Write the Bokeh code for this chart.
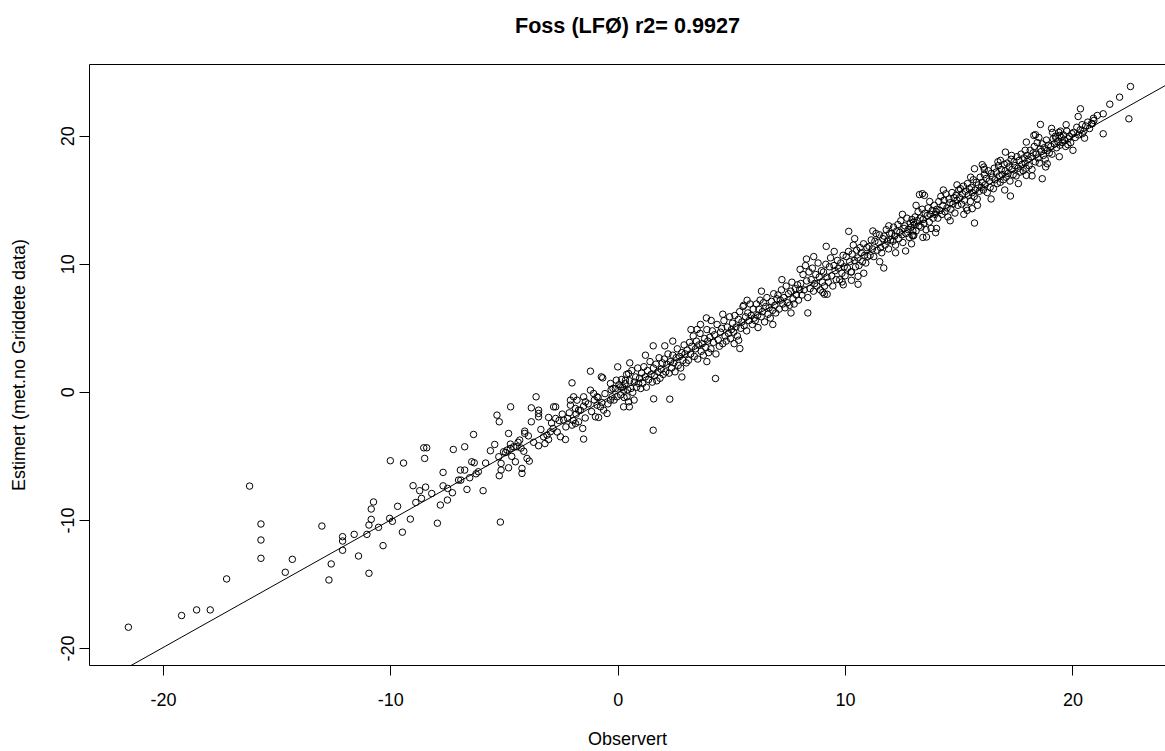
from bokeh.plotting import figure
from bokeh.models import Range1d, FixedTicker, LinearAxis, Slope
from bokeh.embed import file_html
from bokeh.resources import INLINE

TITLE = "Foss (LFØ) r2= 0.9927"
X_LABEL = "Observert"
Y_LABEL = "Estimert (met.no Griddete data)"
tick_values = [-20, -10, 0, 10, 20]
tick_labels = ["-20", "-10", "0", "10", "20"]
fit_intercept = 0.0
fit_slope = 0.9956

tail_points = [
    (-21.54, -18.34), (-19.20, -17.43), (-18.54, -16.99), (-17.94, -16.99), (-17.22, -14.57),
    (-16.21, -7.32), (-15.71, -10.28), (-15.71, -11.53), (-15.71, -12.96), (-14.33, -13.04),
    (-14.64, -14.05), (-13.03, -10.44), (-12.12, -11.27), (-12.12, -11.61), (-12.12, -12.33),
    (-12.62, -13.40), (-12.72, -14.65), (-11.61, -11.09), (-11.42, -12.78), (-11.05, -11.09),
    (-10.96, -10.36), (-10.86, -9.92), (-10.86, -9.11), (-10.76, -8.56), (-10.54, -10.54),
    (-10.34, -11.97), (-10.96, -14.13), (-10.05, -9.84), (-10.02, -5.34),
]

mid_points = [
    (-9.93, -10.07), (-9.49, -10.92), (-9.14, -9.90), (-8.65, -8.28), (-8.47, -7.40),
    (-7.95, -10.22), (-7.82, -8.80), (-7.51, -8.41), (-9.70, -8.90), (-8.90, -8.60),
    (-8.20, -7.90), (-7.70, -7.30), (-5.18, -10.13),
    (-9.44, -5.52), (-8.55, -4.33), (-8.42, -4.33), (-8.51, -5.16), (-9.02, -7.29), (-8.73, -7.68),
    (-7.70, -6.25), (-7.25, -4.46), (-6.75, -4.25), (-6.36, -3.29), (-6.94, -6.07), (-6.75, -6.07),
    (-6.44, -5.42), (-6.33, -5.50), (-7.02, -6.85), (-6.92, -6.85), (-7.50, -7.50), (-7.29, -7.84),
    (-6.65, -7.58), (-5.94, -7.68), (-6.53, -6.67), (-6.25, -6.36), (-6.15, -6.20), (-5.83, -5.52),
    (-5.43, -4.07), (-5.62, -4.56), (-5.33, -1.78), (-5.23, -2.30), (-4.73, -1.13), (-4.82, -3.21),
    (-5.25, -5.03), (-5.15, -5.55), (-5.15, -6.07), (-5.23, -6.51), (-5.04, -4.64), (-4.89, -4.51),
    (-4.74, -4.38), (-4.60, -4.25), (-4.74, -4.04), (-4.52, -5.42), (-4.82, -5.89), (-4.23, -5.94),
    (-4.23, -6.33), (-4.33, -3.73), (-4.11, -3.03), (-4.11, -3.21), (-4.01, -5.16), (-3.91, -5.37),
    (-3.82, -2.30), (-3.61, -0.35), (-3.82, -1.21), (-3.50, -1.39), (-3.50, -1.65), (-3.50, -1.91),
    (-3.50, -4.17), (-4.27, -4.35), (-4.45, -4.25), (-3.28, -3.47), (-3.13, -3.34), (-2.98, -3.08),
    (-2.86, -2.82), (-3.06, -1.96), (-2.84, -1.13), (-2.75, -1.13), (-2.75, -2.04), (-3.06, -3.68),
    (-2.54, -3.47), (-2.32, -3.68), (-2.40, -2.17), (-2.22, -2.04), (-2.03, 0.74), (-2.10, -0.61),
    (-2.10, -1.00), (-1.96, -0.35), (-1.81, -0.61), (-1.74, -1.39), (-1.88, -1.26), (-1.52, -0.35),
    (-1.44, -0.74), (-1.52, -1.08), (-2.03, -2.56), (-1.88, -2.43), (-1.74, -2.30), (-1.56, -2.82),
    (-1.52, -3.65), (-1.22, 1.65), (-1.22, 0.17), (-1.08, -0.09), (-0.93, -0.35), (-0.74, 1.21),
    (-0.68, 1.13), (-0.93, -1.00), (-0.78, -1.13), (-0.64, -1.39), (-0.49, -1.65), (-1.00, -1.91),
    (-0.86, -1.96), (-0.34, 0.69), (-0.23, 0.30), (-0.08, 0.95), (-0.02, 1.99), (0.10, 0.43),
    (0.24, 0.17), (0.39, -0.35), (0.46, -0.74), (0.32, 0.95), (0.46, 1.47), (0.51, 2.30),
    (-0.05, -0.35), (-0.27, -0.35), (-0.34, -0.61), (0.24, -1.13),
    (-4.95, -4.7), (-4.68, -5.0), (-4.40, -3.9), (-4.15, -4.6), (-3.95, -3.4), (-3.72, -3.9),
    (-3.40, -2.9), (-3.22, -4.0), (-2.93, -2.4), (-2.68, -3.1), (-2.60, -2.2), (-2.46, -1.7),
    (-2.30, -2.7), (-2.15, -1.6), (-1.98, -2.2), (-1.85, -1.7), (-1.66, -1.4), (-1.45, -2.0),
    (-1.32, -0.9), (-1.17, -1.5), (-1.05, -0.6), (-0.88, -0.4), (-0.72, -0.8), (-0.58, -0.1),
    (-0.45, -0.9), (-0.31, 0.2), (-0.18, -0.6), (-0.12, 0.3),
]

band_low = [
    (0.04, 0.6), (0.11, -0.2), (0.15, 1.0), (0.20, 0.4), (0.26, -0.4), (0.31, 0.7), (0.37, 1.4),
    (0.42, 0.2), (0.50, 0.9), (0.56, 0.3), (0.60, 1.7), (0.64, 0.0), (0.71, 0.8), (0.77, 1.2),
    (0.81, 0.4), (0.86, 1.9), (0.90, 0.7), (0.94, 1.1), (0.99, 0.3),
    (1.03, 1.5), (1.08, 0.7), (1.13, 2.0), (1.19, 1.2), (1.24, 0.4), (1.29, 1.7), (1.34, 1.0),
    (1.40, 2.4), (1.45, 1.4), (1.50, 0.8), (1.55, 1.9), (1.60, 1.3), (1.66, 2.2), (1.70, 0.9),
    (1.75, 1.6), (1.80, 2.7), (1.84, 1.1), (1.89, 1.8), (1.94, 2.3), (1.98, 1.4),
    (2.03, 2.6), (2.09, 1.6), (2.14, 2.2), (2.19, 3.0), (2.24, 1.5), (2.30, 2.4), (2.35, 1.9),
    (2.40, 2.9), (2.45, 2.3), (2.50, 1.6), (2.55, 2.7), (2.60, 3.4), (2.64, 2.1), (2.70, 2.8),
    (2.75, 1.9), (2.80, 3.1), (2.85, 2.5), (2.90, 3.7), (2.94, 3.0), (2.99, 2.3),
    (3.03, 3.3), (3.09, 2.5), (3.14, 3.9), (3.19, 3.0), (3.24, 3.6), (3.30, 4.4), (3.35, 2.8),
    (3.40, 3.4), (3.44, 4.0), (3.50, 2.6), (3.55, 3.7), (3.60, 4.6), (3.65, 3.2), (3.70, 3.8),
    (3.75, 2.9), (3.80, 4.2), (3.85, 3.5), (3.90, 4.9), (3.94, 4.0), (3.98, 3.1),
    (4.03, 4.3), (4.08, 3.4), (4.14, 4.8), (4.19, 3.9), (4.24, 4.5), (4.30, 3.0), (4.35, 5.3),
    (4.40, 4.1), (4.45, 3.6), (4.50, 4.7), (4.55, 5.0), (4.60, 3.8), (4.65, 5.6), (4.70, 4.4),
    (4.75, 4.0), (4.80, 5.1), (4.85, 4.6), (4.90, 5.9), (4.94, 4.2), (4.98, 4.9),
    (5.03, 5.4), (5.08, 4.7), (5.13, 6.0), (5.18, 5.1), (5.24, 4.4), (5.29, 5.7), (5.34, 6.3),
    (5.39, 5.0), (5.44, 5.5), (5.49, 6.7), (5.54, 5.2), (5.60, 5.9), (5.65, 4.8), (5.70, 6.2),
    (5.75, 5.6), (5.80, 6.9), (5.85, 6.0), (5.90, 5.3), (5.94, 6.5), (5.98, 5.8),
]

band_mid = [
    (6.03, 5.6), (6.08, 6.9), (6.13, 6.0), (6.19, 6.5), (6.24, 7.2), (6.29, 5.9), (6.34, 6.3),
    (6.39, 7.0), (6.44, 5.5), (6.49, 6.7), (6.54, 7.4), (6.59, 6.1), (6.64, 6.6), (6.69, 5.8),
    (6.74, 7.1), (6.79, 6.4), (6.84, 7.7), (6.89, 6.8), (6.93, 6.2), (6.98, 7.3),
    (7.03, 7.6), (7.08, 6.5), (7.13, 7.2), (7.18, 8.0), (7.24, 6.9), (7.29, 7.4), (7.34, 6.6),
    (7.39, 8.3), (7.44, 7.0), (7.49, 7.7), (7.54, 6.8), (7.59, 7.9), (7.64, 8.6), (7.69, 7.3),
    (7.74, 6.9), (7.79, 8.1), (7.84, 7.6), (7.89, 8.4), (7.93, 7.2), (7.98, 8.0),
    (8.03, 8.5), (8.08, 7.6), (8.13, 9.2), (8.18, 8.0), (8.24, 9.9), (8.29, 8.7), (8.34, 7.4),
    (8.39, 9.4), (8.44, 8.1), (8.49, 8.8), (8.54, 9.7), (8.59, 7.9), (8.64, 8.5), (8.69, 9.2),
    (8.74, 8.3), (8.79, 10.1), (8.84, 9.0), (8.89, 8.0), (8.94, 9.5), (8.98, 8.6),
    (9.03, 9.4), (9.08, 8.3), (9.13, 10.0), (9.18, 9.0), (9.24, 8.6), (9.29, 9.8), (9.34, 10.5),
    (9.39, 9.1), (9.44, 8.3), (9.49, 9.9), (9.54, 9.5), (9.59, 8.8), (9.64, 10.3), (9.69, 9.7),
    (9.74, 8.8), (9.79, 10.1), (9.84, 9.3), (9.89, 10.7), (9.94, 9.8), (9.98, 9.1),
    (10.03, 10.6), (10.08, 9.7), (10.13, 11.0), (10.18, 10.2), (10.24, 9.4), (10.29, 10.8),
    (10.34, 11.5), (10.39, 10.3), (10.44, 9.8), (10.49, 11.1), (10.54, 10.5), (10.59, 9.9),
    (10.64, 11.3), (10.69, 10.9), (10.74, 10.2), (10.79, 11.6), (10.84, 10.7), (10.89, 10.1),
    (10.94, 11.3), (10.98, 10.6),
    (11.03, 11.4), (11.08, 10.7), (11.13, 11.9), (11.18, 11.2), (11.24, 10.6), (11.29, 11.8),
    (11.34, 12.4), (11.39, 11.1), (11.44, 11.7), (11.49, 12.3), (11.54, 11.3), (11.59, 10.9),
    (11.64, 12.0), (11.69, 12.2), (11.74, 11.5), (11.79, 12.7), (11.84, 11.8), (11.89, 11.2),
    (11.94, 12.4), (11.98, 11.9),
]

band_high = [
    (12.03, 12.4), (12.08, 11.8), (12.11, 12.9), (12.16, 12.2), (12.20, 11.5), (12.25, 12.6),
    (12.30, 13.1), (12.34, 12.0), (12.39, 12.5), (12.43, 13.4), (12.48, 12.3), (12.52, 11.7),
    (12.57, 12.8), (12.61, 13.0), (12.66, 12.4), (12.70, 13.6), (12.75, 12.7), (12.80, 12.1),
    (12.84, 13.2), (12.88, 12.9), (12.92, 13.5), (12.96, 12.6), (12.99, 13.3),
    (13.02, 13.1), (13.06, 13.7), (13.10, 12.6), (13.15, 13.4), (13.19, 14.1), (13.23, 13.0),
    (13.28, 13.6), (13.32, 12.9), (13.37, 14.3), (13.41, 13.5), (13.45, 13.2), (13.50, 14.0),
    (13.54, 12.7), (13.59, 13.8), (13.63, 14.4), (13.68, 13.3), (13.72, 13.9), (13.76, 12.8),
    (13.81, 14.2), (13.85, 13.6), (13.90, 14.6), (13.94, 13.9), (13.98, 14.1),
    (14.02, 14.3), (14.06, 13.6), (14.10, 14.9), (14.15, 14.2), (14.19, 15.3), (14.24, 13.9),
    (14.28, 14.6), (14.33, 15.0), (14.37, 14.1), (14.41, 15.5), (14.46, 14.4), (14.50, 13.7),
    (14.55, 15.1), (14.59, 14.8), (14.63, 14.3), (14.68, 15.6), (14.72, 14.7), (14.77, 15.2),
    (14.81, 14.0), (14.86, 15.4), (14.90, 15.0), (14.94, 14.6), (14.98, 15.8),
    (15.02, 15.2), (15.05, 15.9), (15.10, 14.7), (15.14, 15.5), (15.18, 16.1), (15.23, 15.0),
    (15.27, 15.7), (15.31, 14.4), (15.36, 16.3), (15.40, 15.4), (15.44, 15.9), (15.49, 14.9),
    (15.53, 16.0), (15.57, 15.6), (15.62, 16.6), (15.66, 15.3), (15.70, 15.8), (15.75, 16.4),
    (15.79, 15.1), (15.84, 16.2), (15.88, 15.7), (15.92, 16.8), (15.97, 16.0),
    (16.01, 16.4), (16.06, 15.8), (16.10, 17.0), (16.14, 16.2), (16.19, 16.7), (16.23, 15.6),
    (16.28, 17.3), (16.32, 16.5), (16.36, 16.0), (16.41, 17.1), (16.45, 16.8), (16.50, 15.9),
    (16.54, 17.5), (16.58, 16.6), (16.63, 17.2), (16.67, 16.3), (16.72, 17.7), (16.76, 16.9),
    (16.80, 16.4), (16.85, 17.4), (16.89, 17.0), (16.94, 16.6), (16.98, 17.8),
    (17.02, 17.3), (17.06, 16.8), (17.10, 17.9), (17.15, 17.1), (17.19, 17.6), (17.23, 16.5),
    (17.28, 18.2), (17.32, 17.4), (17.37, 17.0), (17.41, 18.0), (17.45, 17.7), (17.50, 16.9),
    (17.54, 18.4), (17.59, 17.5), (17.63, 18.1), (17.67, 17.2), (17.72, 18.6), (17.76, 17.8),
    (17.81, 17.3), (17.85, 18.3), (17.90, 17.9), (17.94, 17.5), (17.98, 18.5),
    (18.03, 18.2), (18.07, 17.7), (18.12, 18.9), (18.16, 18.4), (18.20, 17.4), (18.25, 18.7),
    (18.30, 19.2), (18.34, 18.0), (18.38, 18.6), (18.43, 19.5), (18.47, 18.3), (18.52, 17.9),
    (18.56, 19.0), (18.60, 18.8), (18.65, 19.4), (18.70, 18.5), (18.74, 19.1), (18.78, 18.2),
    (18.83, 19.7), (18.88, 18.9), (18.92, 19.3), (18.96, 18.7),
    (19.03, 19.2), (19.08, 18.6), (19.13, 19.8), (19.18, 19.4), (19.23, 20.0), (19.28, 19.1),
    (19.33, 19.6), (19.38, 20.3), (19.43, 19.3), (19.48, 19.9), (19.53, 19.5), (19.58, 20.1),
    (19.63, 19.7), (19.68, 19.2), (19.73, 20.4), (19.79, 19.8), (19.84, 20.0), (19.90, 19.5),
    (19.95, 20.2),
    (20.03, 20.3), (20.10, 19.9), (20.17, 20.7), (20.25, 20.1), (20.32, 20.5), (20.40, 20.9),
    (20.48, 20.4), (20.56, 20.8), (20.65, 21.1), (20.73, 20.6), (20.82, 21.0), (20.90, 21.4),
]

spread_points = [
    (11.2, 12.6), (11.5, 10.2), (11.9, 13.0), (12.2, 10.9), (12.5, 13.9), (12.9, 11.6),
    (13.1, 14.6), (13.4, 12.1), (13.7, 14.9), (14.0, 12.8), (14.3, 15.8), (14.6, 13.4),
    (14.9, 16.2), (15.2, 13.9), (15.5, 16.8), (15.8, 14.6), (16.1, 17.4), (16.4, 15.1),
    (16.7, 18.0), (17.0, 15.8), (17.3, 18.5), (17.6, 16.3), (17.9, 18.9), (18.2, 16.9),
    (18.5, 19.9), (18.8, 17.6), (19.1, 20.3), (19.4, 18.4), (19.7, 20.9), (20.0, 18.9),
    (6.3, 7.9), (6.8, 5.3), (7.2, 8.8), (7.6, 6.2), (8.0, 9.6), (8.6, 10.6), (9.0, 7.8),
    (9.5, 11.0), (9.9, 8.4), (10.4, 12.0), (10.8, 9.3), (3.2, 4.9), (3.9, 2.4), (4.6, 6.1),
    (5.1, 3.8), (2.4, 4.0), (2.8, 1.2), (1.2, 2.9), (0.7, -0.6),
]

outlier_points = [
    (10.14, 12.57), (9.15, 11.40), (8.28, 10.41), (8.34, 6.20), (6.15, 5.06), (4.28, 1.08),
    (2.27, -0.53), (1.56, -0.51), (0.49, -1.13), (1.54, 3.63), (2.05, 3.63), (3.88, 5.81),
    (4.09, 5.61), (3.62, 5.30), (3.47, 4.91), (5.30, 4.07), (5.35, 3.42), (5.67, 7.19),
    (5.52, 6.80), (9.07, 7.66), (9.19, 7.66), (10.26, 9.40), (10.26, 8.75), (10.55, 9.06),
    (10.55, 8.44), (9.85, 8.62), (11.68, 9.71), (12.64, 11.04), (12.97, 12.21), (13.25, 15.44),
    (1.54, -2.96),
    (22.53, 23.88), (22.05, 23.05), (21.62, 22.50), (22.46, 21.36), (21.33, 20.19), (21.33, 21.75),
    (21.07, 21.62), (20.92, 21.23), (20.85, 20.97), (20.33, 22.14), (20.23, 21.54), (20.51, 19.85),
    (20.41, 20.19), (19.78, 19.34), (18.57, 20.92), (18.35, 20.12), (19.06, 20.61), (19.45, 20.40),
    (19.42, 20.06), (19.25, 19.85), (18.87, 17.85), (18.65, 16.68), (17.95, 16.94), (17.25, 15.33),
    (15.67, 13.22), (15.57, 14.34), (15.35, 14.21), (13.96, 12.47), (13.56, 12.13), (13.00, 12.26),
    (12.93, 12.26), (15.67, 17.46), (16.01, 17.78), (16.08, 17.59), (17.03, 18.76), (16.81, 18.11),
    (17.95, 19.54), (18.28, 20.06), (13.38, 15.51), (13.47, 15.38),
]

points = (tail_points + mid_points + band_low + band_mid + band_high
          + spread_points + outlier_points)
observed = [pt[0] for pt in points]
estimated = [pt[1] for pt in points]

FONT = "Liberation Sans"

p = figure(
    width=1165, height=751,
    x_range=Range1d(-23.25, 24.07), y_range=Range1d(-21.33, 25.6),
    output_backend="svg", toolbar_location=None,
    min_border_left=89, min_border_right=0, min_border_top=64, min_border_bottom=85,
)

p.grid.visible = False
p.outline_line_color = None
p.background_fill_color = "white"
p.border_fill_color = "white"

label_map = {v: t for v, t in zip(tick_values, tick_labels)}
for ax in (p.xaxis[0], p.yaxis[0]):
    ax.ticker = FixedTicker(ticks=tick_values)
    ax.major_label_overrides = label_map
    ax.major_tick_out = 10
    ax.major_tick_in = 0
    ax.minor_tick_line_color = None
    ax.major_tick_line_color = "black"
    ax.axis_line_color = "black"
    ax.major_label_text_font = FONT
    ax.major_label_text_font_size = "18px"
    ax.major_label_text_color = "black"
    ax.axis_label_text_font = FONT
    ax.axis_label_text_font_size = "18px"
    ax.axis_label_text_font_style = "normal"
    ax.axis_label_text_color = "black"

p.xaxis[0].axis_label = X_LABEL
p.xaxis[0].major_label_standoff = 17
p.xaxis[0].axis_label_standoff = 20
p.yaxis[0].axis_label = Y_LABEL
p.yaxis[0].major_label_orientation = "vertical"
p.yaxis[0].major_label_standoff = 5
p.yaxis[0].axis_label_standoff = 30

# top border of the box, carrying the chart title as its label
top_axis = LinearAxis(
    ticker=FixedTicker(ticks=[]), axis_line_color="black",
    major_tick_line_color=None, minor_tick_line_color=None,
    major_tick_out=0, major_tick_in=0, major_label_standoff=0,
    major_label_text_font_size="0px",
    axis_label=TITLE, axis_label_text_font=FONT,
    axis_label_text_font_size="21.6px", axis_label_text_font_style="bold",
    axis_label_text_color="black", axis_label_standoff=27,
)
p.add_layout(top_axis, "above")

p.add_layout(Slope(gradient=fit_slope, y_intercept=fit_intercept,
                   line_color="black", line_width=1))

p.scatter(observed, estimated, marker="circle", size=6.5,
          fill_color=None, line_color="black", line_width=1)

open("out.html", "w").write(file_html(p, INLINE))
